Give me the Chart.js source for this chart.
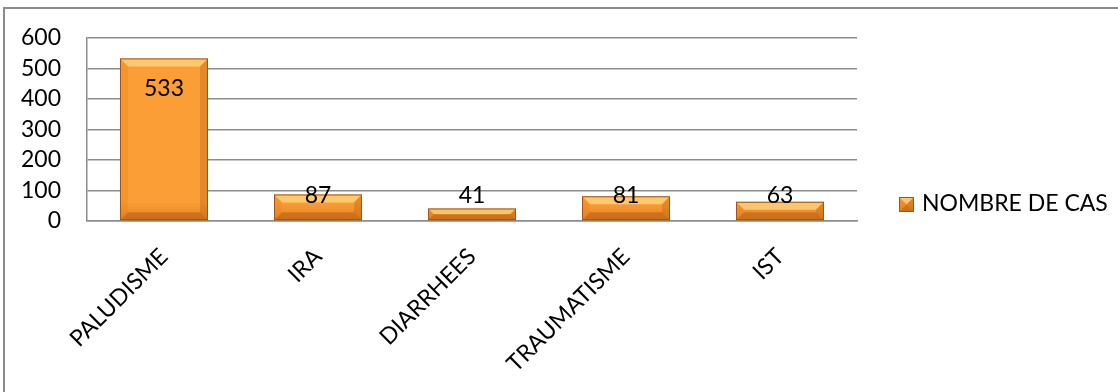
<!DOCTYPE html>
<html lang="fr">
  <head>
    <meta charset="UTF-8">
    <title>Nombre de cas</title>
    <script src="https://cdn.jsdelivr.net/npm/chart.js"></script>
    <style>
      body { margin: 0; overflow: hidden; background: #fff; }
      #wrap { position: absolute; left: 0; top: 0; width: 1118px; height: 392px; }
      #frame { position: absolute; left: 3px; top: 7px; width: 2000px; height: 2000px;
               border-left: 2px solid #8c8c8c; border-top: 2px solid #8c8c8c; pointer-events: none; }
    </style>
  </head>
  <body>
    <div id="wrap"><canvas id="barChart"></canvas></div>
    <div id="frame"></div>
    <script>
      const categories = ['PALUDISME', 'IRA', 'DIARRHEES', 'TRAUMATISME', 'IST'];
      const cases = [533, 87, 41, 81, 63];
      const seriesName = 'NOMBRE DE CAS';
      const yMin = 0;
      const yMax = 600;
      const yStep = 100;
      const labelFloor = 60; // small bars: labels sit on this value line

      const FONT = 'Lato, "Open Sans", sans-serif';
      const FONT_SIZE = 23;
      const GRID = '#8c8c8c';

      function poly(ctx, pts, fill) {
        ctx.beginPath();
        ctx.moveTo(pts[0][0], pts[0][1]);
        pts.slice(1).forEach(p => ctx.lineTo(p[0], p[1]));
        ctx.closePath();
        ctx.fillStyle = fill;
        ctx.fill();
      }

      function orangeFill(ctx, top, bottom) {
        const g = ctx.createLinearGradient(0, top, 0, bottom);
        g.addColorStop(0, '#fb9e36');
        g.addColorStop(1, '#e38224');
        return g;
      }

      function drawBevel(ctx, l, t, r, b) {
        const d = Math.min(8, (b - t) / 2, (r - l) / 2);
        poly(ctx, [[l, t], [r, t], [r - d, t + d], [l + d, t + d]], 'rgba(255,225,140,0.65)');
        poly(ctx, [[l, t], [l + d, t + d], [l + d, b - d], [l, b]], 'rgba(235,125,25,0.3)');
        poly(ctx, [[r, t], [r, b], [r - d, b - d], [r - d, t + d]], 'rgba(175,85,10,0.3)');
        poly(ctx, [[l, b], [l + d, b - d], [r - d, b - d], [r, b]], 'rgba(150,70,10,0.35)');
        ctx.strokeStyle = '#9a561c';
        ctx.lineWidth = 1;
        ctx.strokeRect(l + 0.5, t + 0.5, r - l - 1, b - t - 1);
      }

      const bevelBars = {
        id: 'bevelBars',
        beforeDatasetsDraw(chart) {
          chart.getDatasetMeta(0).data.forEach(bar => {
            bar.options.backgroundColor = orangeFill(chart.ctx, bar.y, bar.base);
          });
        },
        afterDatasetsDraw(chart) {
          const ctx = chart.ctx;
          ctx.save();
          chart.getDatasetMeta(0).data.forEach(bar => {
            drawBevel(ctx, bar.x - bar.width / 2, bar.y, bar.x + bar.width / 2, bar.base);
          });
          ctx.restore();
        }
      };

      const valueLabels = {
        id: 'valueLabels',
        afterDatasetsDraw(chart) {
          const ctx = chart.ctx;
          const yScale = chart.scales.y;
          ctx.save();
          ctx.font = FONT_SIZE + 'px ' + FONT;
          ctx.fillStyle = '#000';
          ctx.textAlign = 'center';
          chart.getDatasetMeta(0).data.forEach((bar, i) => {
            if (bar.y - 30 < chart.chartArea.top) {
              ctx.textBaseline = 'middle';
              ctx.fillText(cases[i], bar.x, bar.y + 30);
            } else {
              ctx.textBaseline = 'alphabetic';
              ctx.fillText(cases[i], bar.x, yScale.getPixelForValue(labelFloor));
            }
          });
          ctx.restore();
        }
      };

      const sideLegend = {
        id: 'sideLegend',
        afterDraw(chart) {
          const ctx = chart.ctx;
          const x = chart.chartArea.right + 42;
          const y = chart.height / 2 + 8;
          ctx.save();
          ctx.fillStyle = orangeFill(ctx, y - 7, y + 8);
          ctx.fillRect(x, y - 7, 15, 15);
          drawBevel(ctx, x, y - 7, x + 15, y + 8);
          ctx.font = FONT_SIZE + 'px ' + FONT;
          ctx.fillStyle = '#000';
          ctx.textAlign = 'left';
          ctx.textBaseline = 'middle';
          ctx.fillText(chart.data.datasets[0].label, x + 23, y);
          ctx.restore();
        }
      };

      new Chart(document.getElementById('barChart'), {
        type: 'bar',
        data: {
          labels: categories,
          datasets: [{
            label: seriesName,
            data: cases,
            backgroundColor: '#f08c2c',
            borderWidth: 0,
            categoryPercentage: 1,
            barPercentage: 1 / 1.75
          }]
        },
        options: {
          responsive: true,
          maintainAspectRatio: false,
          animation: false,
          layout: { padding: { top: 38, right: 261, bottom: 0, left: 0 } },
          plugins: {
            legend: { display: false },
            tooltip: { enabled: false }
          },
          scales: {
            y: {
              min: yMin,
              max: yMax,
              ticks: {
                stepSize: yStep, maxTicksLimit: 20, autoSkip: false,
                color: '#000', padding: 26,
                font: { family: FONT, size: FONT_SIZE, lineHeight: 1 }
              },
              grid: { color: GRID, lineWidth: 1.5, drawTicks: false },
              border: { color: GRID, width: 1.5 },
              afterFit(scale) { scale.width = 87; }
            },
            x: {
              ticks: { color: '#000', minRotation: 45, maxRotation: 45, padding: 22, font: { family: FONT, size: FONT_SIZE } },
              grid: { display: false, drawTicks: false },
              border: { color: GRID, width: 1.5 },
              afterFit(scale) { scale.height = 171; }
            }
          }
        },
        plugins: [bevelBars, valueLabels, sideLegend]
      });
    </script>
  </body>
</html>
